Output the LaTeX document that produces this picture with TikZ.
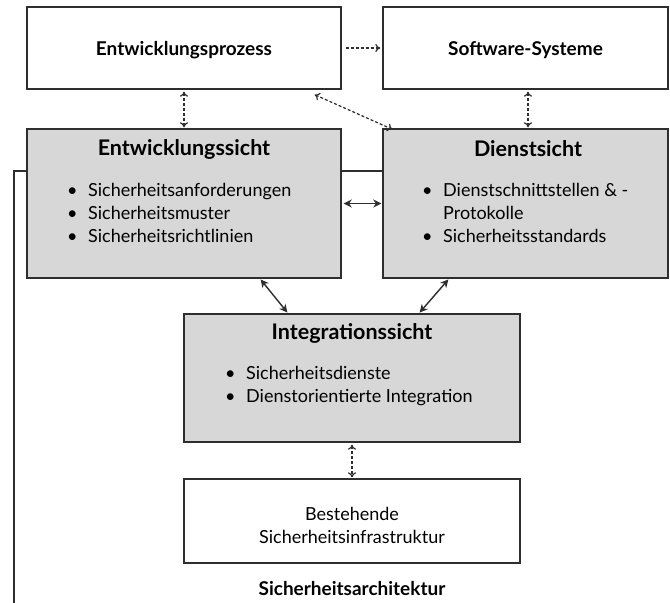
\documentclass[tikz,border=0pt]{standalone}
\usepackage{fontspec}
\setmainfont{Lato}
\usetikzlibrary{arrows.meta}
\definecolor{boxline}{HTML}{2E2E2E}
\definecolor{viewfill}{HTML}{D7D7D7}
\newcommand{\bulletitem}{\makebox[21pt][l]{\textbullet}}
\begin{document}
\begin{tikzpicture}[x=1pt,y=-1pt,
  box/.style={draw=boxline,line width=1.4pt,rectangle,inner sep=0pt},
  plainbox/.style={box,fill=white},
  viewbox/.style={box,fill=viewfill},
  titletext/.style={font=\fontsize{21.5}{24}\selectfont\bfseries,inner sep=0pt},
  headtext/.style={font=\fontsize{19}{22}\selectfont\bfseries,inner sep=0pt},
  listtext/.style={font=\fontsize{18}{23}\selectfont,inner sep=0pt,anchor=north west},
  bodytext/.style={font=\fontsize{18}{23}\selectfont,inner sep=0pt,align=center},
  dotline/.style={draw=boxline,line width=1.2pt,dash pattern=on 3pt off 2pt},
  dotlink/.style={dotline,{To[length=5pt,width=8pt]}-{To[length=5pt,width=8pt]}},
  dotto/.style={dotline,-{To[length=5pt,width=8pt]}},
  solidlink/.style={draw=boxline,line width=1.4pt,{Stealth[length=8pt,width=8pt]}-{Stealth[length=8pt,width=8pt]}},
  frameline/.style={draw=boxline,line width=1.4pt}]
\useasboundingbox[fill=white] (0,0) rectangle (670,603);

% frame of the security architecture, running behind the view boxes
\coordinate (frameBottom) at (14,603);
\coordinate (frameCorner) at (14,171);
\coordinate (frameEnd) at (383,171);
\draw[frameline] (frameBottom) -- (frameCorner) -- (frameEnd);

% top row
\node[plainbox,minimum width=314pt,minimum height=82pt] (prozess) at (184,48) {};
\node[headtext] (prozessT) at (184,50) {Entwicklungsprozess};
\node[plainbox,minimum width=285pt,minimum height=82pt] (software) at (525.5,48) {};
\node[headtext] (softwareT) at (525.5,50) {Software-Systeme};

% views
\node[viewbox,minimum width=314pt,minimum height=149pt] (entw) at (184,203.5) {};
\node[titletext] (entwT) at (184,149) {Entwicklungssicht};
\node[listtext] (entwL) at (67,180.5) {\begin{tabular}{@{}l@{}}
\bulletitem Sicherheitsanforderungen\\
\bulletitem Sicherheitsmuster\\
\bulletitem Sicherheitsrichtlinien
\end{tabular}};

\node[viewbox,minimum width=285pt,minimum height=149pt] (dienst) at (525.5,203.5) {};
\node[titletext] (dienstT) at (528,149) {Dienstsicht};
\node[listtext] (dienstL) at (422,180.5) {\begin{tabular}{@{}l@{}}
\bulletitem Dienstschnittstellen \& -\\
\hspace*{21pt}Protokolle\\
\bulletitem Sicherheitsstandards
\end{tabular}};

\node[viewbox,minimum width=336pt,minimum height=128pt] (integ) at (352,378) {};
\node[titletext] (integT) at (352,333) {Integrationssicht};
\node[listtext] (integL) at (225,363.5) {\begin{tabular}{@{}l@{}}
\bulletitem Sicherheitsdienste\\
\bulletitem Dienstorientierte Integration
\end{tabular}};

% existing infrastructure
\node[plainbox,minimum width=336pt,minimum height=84pt] (best) at (352,521) {};
\node[bodytext] (bestT) at (352,525.5) {Bestehende\\Sicherheitsinfrastruktur};

\node[headtext] (archT) at (352,589) {Sicherheitsarchitektur};

% connectors
\draw[dotto,shorten >=2pt] ([xshift=4pt]prozess.east) -- (software.west);
\draw[dotlink,shorten <=2pt,shorten >=1pt] (prozess.south) -- (entw.north);
\draw[dotlink,shorten <=2pt,shorten >=1pt] (software.south -| 528,0) -- (dienst.north -| 528,0);
\draw[dotlink] ([shift={(-27pt,-5pt)}]prozess.south east) -- ([shift={(10pt,-1pt)}]dienst.north west);
\draw[solidlink,shorten <=2pt,shorten >=1pt] (entw.east) -- (dienst.west);
\draw[solidlink,shorten <=1pt,shorten >=1pt] ([xshift=76pt]entw.south) -- ([xshift=-64pt]integ.north);
\draw[solidlink,shorten <=1pt,shorten >=1pt] ([xshift=-76.5pt]dienst.south) -- ([xshift=67pt]integ.north);
\draw[dotlink,shorten <=2pt,shorten >=1pt] (integ.south) -- (best.north);
\end{tikzpicture}
\end{document}
